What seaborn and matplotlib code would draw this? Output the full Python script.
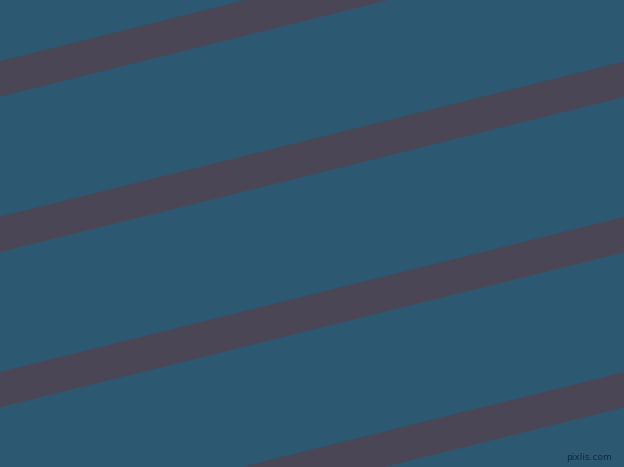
import numpy as np
import pandas as pd
import matplotlib
matplotlib.use("Agg")
import matplotlib.pyplot as plt
import seaborn as sns

# Stripe data (image pixel coords, y downward)
stripe_top_at_left = [61.0, 216.5, 371.8, 527.0]   # top edge y at x=0
stripe_thickness = [35.5, 35.5, 35.5, 35.5]        # vertical thickness
stripe_slope = -0.2484                              # dy/dx
x_edges = [0, 624]

bg_color = "#2c5872"
stripe_color = "#4a4656"

sns.set_theme(style="white")
fig = plt.figure(figsize=(6.24, 4.67), dpi=100)
ax = fig.add_axes([0, 0, 1, 1])
ax.set_facecolor(bg_color)
fig.patch.set_facecolor(bg_color)

xs = np.array(x_edges, dtype=float)
for top, th in zip(stripe_top_at_left, stripe_thickness):
    y_top = top + stripe_slope * xs
    y_bot = y_top + th
    ax.fill_between(xs, y_top, y_bot, color=stripe_color, linewidth=0)

ax.set_xlim(0, 624)
ax.set_ylim(467, 0)
ax.axis("off")

ax.text(612, 458, "pixlis.com", fontsize=6.5, color="#16263a",
        ha="right", va="center", family="DejaVu Sans")

fig.savefig("out.png", dpi=100, facecolor=bg_color)
